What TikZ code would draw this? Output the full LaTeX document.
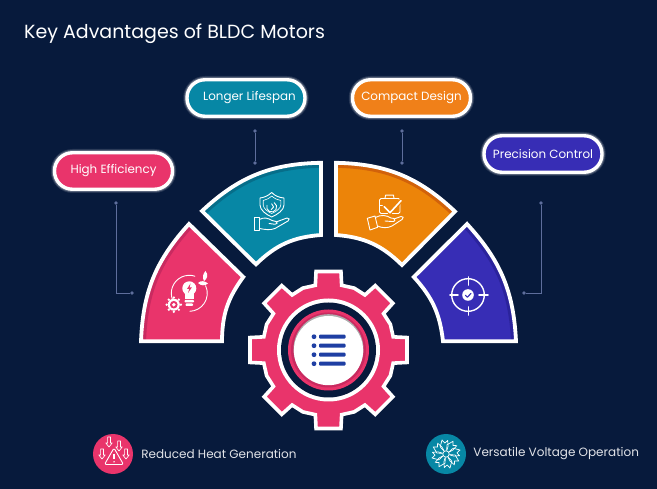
\documentclass[tikz,border=0pt]{standalone}
\usepackage{fontspec}
\setmainfont{Poppins}
\usetikzlibrary{positioning}

\definecolor{bgnavy}{HTML}{071A3C}
\definecolor{mypink}{HTML}{E9346B}
\definecolor{mypinkd}{HTML}{C92A60}
\definecolor{myteal}{HTML}{0787A5}
\definecolor{mytealdk}{HTML}{066E8A}
\definecolor{myorange}{HTML}{EC8409}
\definecolor{myorangedk}{HTML}{D2620A}
\definecolor{mypillor}{HTML}{F08019}
\definecolor{myblue}{HTML}{372DB5}
\definecolor{mybluedk}{HTML}{2B239C}
\definecolor{mylink}{HTML}{5E6E9C}
\definecolor{mylist}{HTML}{1F3FA3}

\tikzset{
    pill/.style={draw=white, line width=3.4pt, rounded corners=18pt, minimum width=118pt, minimum height=36.5pt,
        text=white, inner sep=0pt, font=\fontsize{11.9}{15}\selectfont,
        preaction={draw=white, line width=7.5pt, opacity=.12},
        preaction={draw=white, line width=5.5pt, opacity=.25}},
    linkdot/.style={circle, fill=mylink, inner sep=0pt, minimum size=3.6pt},
    link/.style={draw=mylink, line width=.9pt},
    badge/.style={circle, draw=none, inner sep=0pt, minimum size=40pt},
    bottomtext/.style={text=white!88!bgnavy, inner sep=0pt, font=\fontsize{12}{15}\selectfont},
    iconline/.style={draw=white, line width=.9pt, line join=round, line cap=round},
}

\begin{document}
\begin{tikzpicture}[x=1pt, y=-1pt]
    \fill[bgnavy] (0,0) rectangle (657,489);

    \node[anchor=base west, text=white, inner sep=0pt, font=\fontsize{19}{22}\selectfont] (title) at (24,38.5) {Key Advantages of BLDC Motors};

    % the four segments
    \foreach \sfill/\sdark/\pa/\pb/\pc/\pd/\bo/\bi in {
        mypink/mypinkd/{141,341.3}/{189,224}/{243.3,277}/{222,341.3}/20/18,
        myteal/mytealdk/{202,211}/{321,162.8}/{321,235}/{256,264.3}/21/20,
        myorange/myorangedk/{336,162.8}/{455,211.5}/{402,265}/{336,235}/21/20,
        myblue/mybluedk/{467,224}/{516,341.3}/{443,341.3}/{413.8,277}/20/18} {
        \def\segpath{(\pa) to[bend left=\bo] (\pb) -- (\pc) to[bend right=\bi] (\pd) -- cycle}
        \fill[\sfill] \segpath;
        \begin{scope}
            \clip \segpath;
            \draw[\sdark, line width=10pt] (\pa) to[bend left=\bo] (\pb);
        \end{scope}
        \draw[white, line width=3.8pt, line join=miter] \segpath;
    }

    % gear
    \begin{scope}[shift={(328.5,350)}]
        \draw[fill=mypink, draw=white, line width=3.6pt, line join=miter] (-11.5:66pt)
            \foreach \a in {0,45,...,315} {
                -- ({\a-11.5}:66pt) -- ({\a-9}:79.5pt) -- ({\a+9}:79.5pt) -- ({\a+11.5}:66pt) -- ({\a+22.5}:67pt)
            } -- cycle;
        \fill[white] (0,0) circle[radius=51.5pt];
        \fill[bgnavy] (0,0) circle[radius=47.5pt];
        \fill[mypink] (0,0) circle[radius=40.5pt];
        \fill[mypinkd] (0,0) circle[radius=37.5pt];
        \fill[black!32] (0,-.8) circle[radius=35pt];
        \fill[white] (0,.6) circle[radius=34.6pt];
        \foreach \ly in {-13.3,-4.3,4.7,13.7} {
            \fill[mylist] (-14.5,\ly) circle[radius=2.4pt];
            \fill[mylist, rounded corners=1pt] (-9.5,{\ly-2}) rectangle (17,{\ly+2});
        }
    \end{scope}

    % pills
    \node[pill, fill=mypink] (pillhigh) at (113.5,171) {High Efficiency};
    \node[pill, fill=myteal] (pilllong) at (246,98) {\hspace*{7pt}Longer Lifespan};
    \node[pill, fill=mypillor] (pillcomp) at (411.5,98) {Compact Design};
    \node[pill, fill=myblue] (pillprec) at (543,154) {Precision Control};

    % connectors
    \node[linkdot] (higha) at (116,203) {};
    \node[linkdot] (highb) at (132,293) {};
    \node[linkdot] (longa) at (255,131) {};
    \node[linkdot] (longb) at (255,163) {};
    \node[linkdot] (compa) at (402,131) {};
    \node[linkdot] (compb) at (402,163) {};
    \node[linkdot] (preca) at (541,203) {};
    \node[linkdot] (precb) at (524,293) {};
    \draw[link] (higha) |- (highb);
    \draw[link] (longa) -- (longb);
    \draw[link] (compa) -- (compb);
    \draw[link] (preca) |- (precb);

    % bulb icon
    \draw[iconline] (189.3,293.3) ++(205:18pt) arc[start angle=205, end angle=72, radius=18pt];
    \draw[iconline] (189.3,293.3) ++(25:18pt) arc[start angle=25, end angle=-88, radius=18pt];
    \fill[white] (189.3,288.3) circle[radius=7pt];
    \fill[white] (185,292) rectangle (193.6,299);
    \fill[white, rounded corners=.8pt] (184.5,300) rectangle (194,302.5);
    \fill[white, rounded corners=.8pt] (185.5,303.5) rectangle (193,306);
    \fill[mypink] (190.5,283.5) -- (187,289) -- (189.2,289) -- (188,293) -- (191.8,287.5) -- (189.6,287.5) -- cycle;
    \fill[white] (205.5,271) .. controls (209,275) and (207,279) .. (204,281) .. controls (202,277) and (203,274) .. (205.5,271);
    \fill[white] (198,283) .. controls (201,280) and (205,281) .. (208,283.5) .. controls (205,286) and (201,286) .. (198,283);
    \fill[white] (173.8,304.7) circle[radius=6pt];
    \foreach \a in {0,45,...,315} {
        \fill[white] (173.8,304.7) ++(\a:7.1pt) circle[radius=1.3pt];
    }
    \fill[mypink] (173.8,304.7) circle[radius=3.8pt];
    \fill[white] (173.8,304.7) circle[radius=1.9pt];

    % shield icon
    \draw[iconline] (271.7,192.5) .. controls (268,196) and (264,197.5) .. (260,198) -- (260,205) .. controls (260,210) and (266,214.5) .. (271.7,217) .. controls (277.5,214.5) and (284,210) .. (284,205) -- (284,198) .. controls (279,197.5) and (275,196) .. (271.7,192.5) -- cycle;
    \draw[iconline, line width=.6pt] (271.7,196) .. controls (269,198.5) and (266,200) .. (263.2,200.5) -- (263.2,205) .. controls (263.2,208.5) and (268,212) .. (271.7,213.5) .. controls (275.5,212) and (280.8,208.5) .. (280.8,205) -- (280.8,200.5) .. controls (277.5,200) and (274.5,198.5) .. (271.7,196) -- cycle;
    \draw[iconline] (271.7,207) ++(60:5pt) arc[start angle=60, end angle=-200, radius=5pt];
    \draw[iconline] (271.7,203.8) -- (273.6,207) -- (271.2,209.5);
    \draw[iconline] (254.5,217) -- (259.3,217) -- (259.3,230) -- (254.5,230) -- cycle;
    \draw[iconline] (259.3,219.5) .. controls (264,217) and (268,218) .. (272,220.5) -- (276,221.5) .. controls (278,222) and (277.5,224.5) .. (275,224.3) -- (269,223.5);
    \draw[iconline] (276,222) -- (287,218) .. controls (289.5,217.5) and (290,220) .. (288,221) -- (275,228.5) .. controls (270,230.5) and (265,229.5) .. (259.3,228.5);

    % case icon
    \draw[iconline, rounded corners=1.5pt] (379.5,198.5) rectangle (400,213.5);
    \draw[iconline] (385,198.5) -- (385.5,195.2) -- (393.5,195.2) -- (394,198.5);
    \draw[iconline] (379.5,205) -- (384,205);
    \draw[myorange, line width=4pt, line cap=round, line join=round] (384.3,206.7) -- (390,212.7) -- (401,200.7);
    \draw[white, line width=1.6pt, line cap=round, line join=round] (384.3,206.7) -- (390,212.7) -- (401,200.7);
    \draw[iconline] (367.3,218.3) -- (375,216) -- (377.7,227.3) -- (370,230) -- cycle;
    \draw[iconline] (375.3,217.5) .. controls (381,214.5) and (386,215) .. (391,218) -- (394,218.5) .. controls (396,219.5) and (395,222) .. (392,221.5) -- (385,221);
    \draw[iconline] (394,219) -- (401,216.5) .. controls (403.5,216) and (404,218) .. (402,219.5) -- (392,226) .. controls (387,228.5) and (382,228) .. (377.5,226);

    % target icon
    \draw[white, line width=1.4pt] (468,295) circle[radius=16.3pt];
    \foreach \tx/\ty/\ux/\uy in {450/295/458/295, 479/295/488/295, 468.5/277/468.5/285, 468.5/307/468.5/315} {
        \draw[white, line width=1.9pt, line cap=round] (\tx,\ty) -- (\ux,\uy);
    }
    \fill[white] (468,295) circle[radius=5.8pt];
    \draw[myblue, line width=1.1pt, line cap=round, line join=round] (465.4,295.2) -- (467.4,297.2) -- (471,293.4);

    % bottom items
    \node[badge, fill=mypink] (heatbadge) at (113,454) {};
    \node[badge, fill=myteal] (voltbadge) at (446,454) {};
    \node[bottomtext, right=8pt of heatbadge] (heattext) {Reduced Heat Generation};
    \node[bottomtext, right=7pt of voltbadge] (volttext) {Versatile Voltage Operation};

    % heat icon
    \foreach \ax/\ay in {109/437, 119/441, 102/449, 126/449} {
        \draw[iconline, line width=.7pt, shift={(\ax,\ay)}] (-1.4,0) -- (1.4,0) -- (1.4,6) -- (3.2,6) -- (0,10) -- (-3.2,6) -- (-1.4,6) -- cycle;
    }
    \draw[iconline, fill=mypink, rounded corners=1.5pt] (114,448) -- (123.5,464.5) -- (104.5,464.5) -- cycle;
    \draw[white, line width=1.3pt] (114,454) -- (114,459.5);
    \fill[white] (114,461.8) circle[radius=.8pt];

    % flake icon
    \draw[iconline, line width=.7pt] (446,454) circle[radius=3.2pt];
    \foreach \a in {0,45,...,315} {
        \draw[iconline, line width=.7pt, shift={(446,454)}, rotate=\a+10] (3.5,-1.5) -- (8,-4.5) -- (14.5,-1.5) -- (11,.8) -- (13,4) -- (7.5,3.5) -- (3.5,1.5);
    }
\end{tikzpicture}
\end{document}
